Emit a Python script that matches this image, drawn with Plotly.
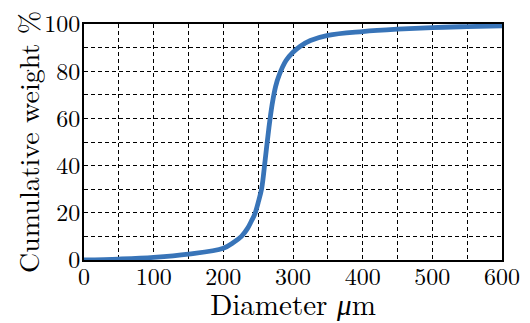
import plotly.graph_objects as go

diameter = [0, 50, 100, 150, 200, 215, 226, 235, 240, 245, 250, 255, 260, 265, 270, 275, 280, 290, 300, 310, 325, 350, 400, 450, 500, 550, 600]
cum_weight = [0, 0.4, 1.1, 2.5, 5.0, 7.5, 10.0, 13.5, 16.3, 19.3, 24.3, 30.3, 42.3, 55.0, 65.8, 73.5, 78.2, 84.5, 88.0, 90.5, 93.0, 95.2, 96.8, 97.8, 98.5, 98.9, 99.2]

x_ticks = [0, 100, 200, 300, 400, 500, 600]
y_ticks = [0, 20, 40, 60, 80, 100]

x_title = "Diameter <i>μ</i>m"
y_title = "Cumulative weight %"

FONT = "Latin Modern Roman"

fig = go.Figure()
fig.add_trace(go.Scatter(
    x=diameter, y=cum_weight, mode="lines",
    line=dict(color="#3874b8", width=4.8, shape="spline", smoothing=1.0),
    showlegend=False,
))

grid_common = dict(showgrid=True, gridcolor="black", gridwidth=1, griddash="4px,3px")

fig.update_xaxes(
    range=[0, 600], tickvals=x_ticks, ticks="", ticklabelstandoff=-6,
    ticklabeloverflow="allow",
    showline=True, linecolor="black", linewidth=2, mirror=True,
    zeroline=False, automargin=False,
    minor=dict(dtick=50, tick0=0, **grid_common),
    tickfont=dict(family=FONT, size=24, color="black"),
    title=dict(text=x_title, font=dict(family=FONT, size=29, color="black"), standoff=0),
    **grid_common,
)
fig.update_yaxes(
    range=[0, 100], tickvals=y_ticks, ticks="", ticklabelstandoff=-3,
    ticklabeloverflow="allow",
    showline=True, linecolor="black", linewidth=2, mirror=True,
    zeroline=False, automargin=False,
    minor=dict(dtick=10, tick0=0, **grid_common),
    tickfont=dict(family=FONT, size=24, color="black"),
    **grid_common,
)

fig.add_annotation(
    text=y_title, textangle=-90, showarrow=False,
    xref="paper", yref="paper", x=0, y=0.5, xanchor="center", yanchor="middle",
    xshift=-57, yshift=0,
    font=dict(family=FONT, size=28, color="black"),
)

# the page body adds an 8px margin, so the figure is sized 8px smaller to fit the 530x323 window
fig.update_layout(
    width=522, height=315,
    margin=dict(l=76, r=28, t=16, b=63),
    paper_bgcolor="white", plot_bgcolor="white",
)

fig.write_html("out.html")
